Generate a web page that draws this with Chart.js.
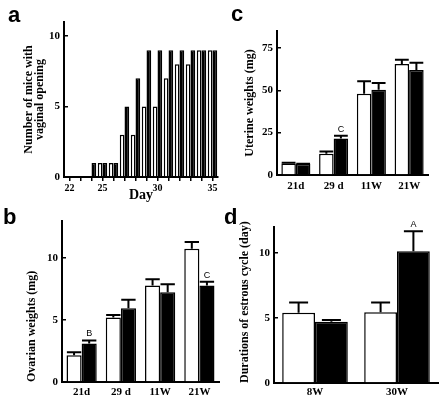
<!DOCTYPE html>
<html>
<head>
<meta charset="utf-8">
<script src="https://cdn.jsdelivr.net/npm/chart.js@4"></script>
<style>
  body { margin: 0; background: #fff; }
  #wrap { position: relative; width: 440px; height: 402px; overflow: hidden; }
  canvas { position: absolute; }
  .lab { position: absolute; font: bold 22px "Liberation Sans", Arial, sans-serif; line-height: 1; color: #000; }
</style>
</head>
<body>
<div id="wrap">
  <canvas id="chartA" width="220" height="202" style="left:0;top:0"></canvas>
  <canvas id="chartC" width="220" height="202" style="left:220px;top:0"></canvas>
  <canvas id="chartB" width="220" height="202" style="left:0;top:200px"></canvas>
  <canvas id="chartD" width="220" height="202" style="left:220px;top:200px"></canvas>
  <div class="lab" style="left:8px;top:4px">a</div>
  <div class="lab" style="left:231px;top:3px">c</div>
  <div class="lab" style="left:3px;top:206px">b</div>
  <div class="lab" style="left:224px;top:206px">d</div>
</div>
<script>
// a : ouverture vaginale par jour
const days = ['22', '23', '24', '25', '26', '27', '28', '29', '30', '31', '32', '33', '34', '35'];
const openWhite = [0, 0, 0, 1, 1, 3, 3, 5, 5, 7, 8, 8, 9, 9];
const openBlack = [0, 0, 1, 1, 1, 5, 7, 9, 9, 9, 9, 9, 9, 9];
const dayTicks = ['22', '25', '30', '35'];

// b : poids des ovaires
const ageLabels = ['21d', '29 d', '11W', '21W'];
const ovaryWhite = [2.15, 5.2, 7.8, 10.75];
const ovaryWhiteErr = [0.25, 0.2, 0.5, 0.55];
const ovaryBlack = [3.1, 5.95, 7.25, 7.8];
const ovaryBlackErr = [0.25, 0.7, 0.65, 0.3];
const ovaryMarks = ['B', '', '', 'C'];

// c : poids utérins
const uterusWhite = [6.8, 12.5, 48, 65.5];
const uterusWhiteErr = [0.5, 1.3, 7.4, 2.6];
const uterusBlack = [6.5, 21.5, 50.3, 62];
const uterusBlackErr = [0.2, 1.6, 4, 4.2];
const uterusMarks = ['', 'C', '', ''];

// d : durée du cycle
const cycleLabels = ['8W', '30W'];
const cycleWhite = [5.4, 5.45];
const cycleWhiteErr = [0.8, 0.75];
const cycleBlack = [4.72, 10.13];
const cycleBlackErr = [0.13, 1.55];
const cycleMarks = ['', 'A'];

const serif = '"Liberation Serif", "Times New Roman", serif';
const tickFont = { family: serif, size: 11, weight: 'bold' };

// barres d'erreur (vers le haut seulement) + lettres de significativité
const errorBars = {
  id: 'errorBars',
  afterDatasetsDraw(chart) {
    const ctx = chart.ctx;
    const yScale = chart.scales.y;
    chart.data.datasets.forEach((ds, i) => {
      if (!ds.errors) return;
      chart.getDatasetMeta(i).data.forEach((bar, j) => {
        const top = yScale.getPixelForValue(ds.data[j] + ds.errors[j]);
        const cap = Math.min(bar.width * 0.95, 19) / 2;
        ctx.save();
        ctx.strokeStyle = '#000';
        ctx.lineWidth = 2;
        ctx.beginPath();
        ctx.moveTo(bar.x, bar.y);
        ctx.lineTo(bar.x, top);
        ctx.moveTo(bar.x - cap, top);
        ctx.lineTo(bar.x + cap, top);
        ctx.stroke();
        if (ds.marks && ds.marks[j]) {
          ctx.fillStyle = '#000';
          ctx.font = '9px "Liberation Sans", Arial, sans-serif';
          ctx.textAlign = 'center';
          ctx.textBaseline = 'bottom';
          ctx.fillText(ds.marks[j], bar.x, top - 2);
        }
        ctx.restore();
      });
    });
  }
};

function makePanel(id, cfg) {
  return new Chart(document.getElementById(id), {
    type: 'bar',
    data: {
      labels: cfg.labels,
      datasets: [
        { data: cfg.white, errors: cfg.whiteErr, backgroundColor: '#fff', borderColor: '#000', borderWidth: 1.5 },
        { data: cfg.black, errors: cfg.blackErr, marks: cfg.marks, backgroundColor: '#000', borderColor: '#000', borderWidth: 1.5 }
      ]
    },
    options: {
      responsive: false,
      animation: false,
      layout: { padding: { top: cfg.padTop, right: cfg.padRight, bottom: 0, left: 0 } },
      plugins: { legend: { display: false }, tooltip: { enabled: false } },
      datasets: { bar: { categoryPercentage: cfg.catPct, barPercentage: 1 } },
      scales: {
        x: Object.assign({
          border: { color: '#000', width: 2 },
          grid: { display: false, drawTicks: false },
          ticks: { color: '#000', font: tickFont, padding: cfg.xTickPad, maxRotation: 0, autoSkip: false },
          afterFit: (s) => { s.height = cfg.xHeight; }
        }, cfg.xExtra || {}),
        y: {
          min: 0,
          max: cfg.max,
          border: { color: '#000', width: 2 },
          grid: { drawOnChartArea: false, tickLength: -4, color: '#000', lineWidth: 1.5 },
          ticks: { stepSize: cfg.step, includeBounds: false, color: '#000', font: tickFont, padding: 8 },
          title: {
            display: true, text: cfg.yTitle, color: '#000', align: cfg.titleAlign,
            font: { family: serif, size: 12, weight: 'bold', lineHeight: 0.9 },
            padding: { top: cfg.titlePad, bottom: 0 }
          },
          afterFit: (s) => { s.width = cfg.yWidth; }
        }
      }
    },
    plugins: [errorBars]
  });
}

// Panneau a
makePanel('chartA', {
  labels: days, white: openWhite, black: openBlack,
  max: 11, step: 5, catPct: 0.86,
  padTop: 22, padRight: 2, yWidth: 64, xHeight: 25, xTickPad: 1,
  yTitle: ['Number of mice with', 'vaginal opening'], titleAlign: 'center', titlePad: 24,
  xExtra: {
    grid: { display: true, drawOnChartArea: false, offset: false, tickLength: 4, color: '#000', lineWidth: 1.5 },
    ticks: {
      color: '#000', font: { family: serif, size: 10, weight: 'bold' }, padding: 1, maxRotation: 0, autoSkip: false,
      callback: function (value) {
        const lbl = this.getLabelForValue(value);
        return dayTicks.includes(lbl) ? lbl : '';
      }
    },
    title: { display: true, text: 'Day', color: '#000', font: { family: serif, size: 14, weight: 'bold', lineHeight: 1 }, padding: 0 }
  }
});

// Panneau c
makePanel('chartC', {
  labels: ageLabels, white: uterusWhite, whiteErr: uterusWhiteErr,
  black: uterusBlack, blackErr: uterusBlackErr, marks: uterusMarks,
  max: 85, step: 25, catPct: 0.77,
  padTop: 31, padRight: 12, yWidth: 57, xHeight: 27, xTickPad: 5,
  yTitle: 'Uterine weights (mg)', titleAlign: 'center', titlePad: 25
});

// Panneau b
makePanel('chartB', {
  labels: ageLabels, white: ovaryWhite, whiteErr: ovaryWhiteErr,
  black: ovaryBlack, blackErr: ovaryBlackErr, marks: ovaryMarks,
  max: 13, step: 5, catPct: 0.77,
  padTop: 21, padRight: 1, yWidth: 62, xHeight: 20, xTickPad: 4,
  yTitle: 'Ovarian weights (mg)', titleAlign: 'start', titlePad: 27
});

// Panneau d
makePanel('chartD', {
  labels: cycleLabels, white: cycleWhite, whiteErr: cycleWhiteErr,
  black: cycleBlack, blackErr: cycleBlackErr, marks: cycleMarks,
  max: 12, step: 5, catPct: 0.8,
  padTop: 27, padRight: 2, yWidth: 54, xHeight: 19, xTickPad: 3,
  yTitle: 'Durations of estrous cycle (day)', titleAlign: 'start', titlePad: 20
});
</script>
</body>
</html>
